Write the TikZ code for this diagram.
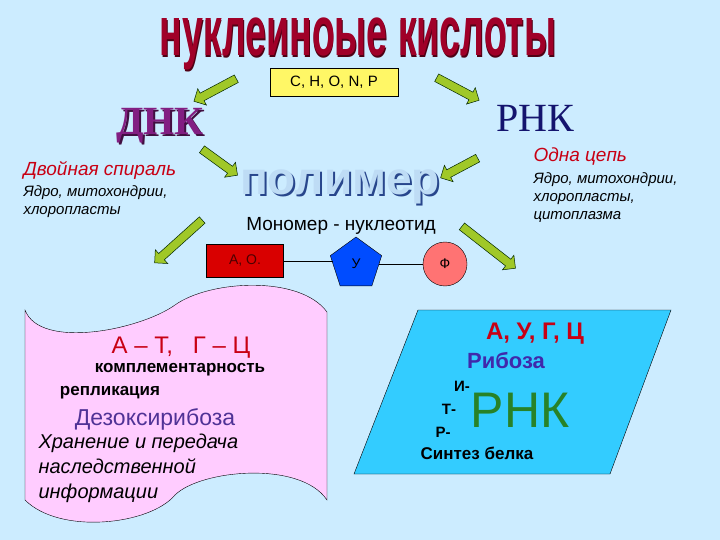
\documentclass[tikz,border=0pt]{standalone}
\usepackage{fontspec}
\setmainfont{Liberation Sans}
\newfontfamily\serifR{Liberation Serif}
\usetikzlibrary{shapes.geometric,shapes.arrows}
\definecolor{bg}{RGB}{204,236,255}
\definecolor{arrg}{RGB}{160,200,40}
\definecolor{titlered}{RGB}{160,0,40}
\definecolor{dnkpurple}{RGB}{130,30,130}
\definecolor{rnkblue}{RGB}{20,20,110}
\definecolor{txtred}{RGB}{200,0,20}
\definecolor{pinkscroll}{RGB}{255,204,255}
\definecolor{cyanfill}{RGB}{51,204,255}
\definecolor{violet2}{RGB}{80,50,150}
\definecolor{rnkgreen}{RGB}{40,130,40}
\definecolor{polyfill}{RGB}{190,220,245}
\definecolor{polyline}{RGB}{40,70,140}
\newcommand{\shadowed}[3]{\makebox[0pt][l]{\hspace{#1}\raisebox{-#1}{\color{#2}#3}}#3}
\tikzset{
  garrow/.style={draw=black!50!green!30!black, line width=0.5pt, fill=arrg, single arrow, single arrow head extend=5pt, minimum height=#1, inner sep=0pt},
  itl/.style={anchor=west, font=\itshape\fontsize{15}{18}\selectfont, align=left},
  lbl/.style={inner sep=0pt}
}
\newcommand{\shaft}{\rule{0pt}{8pt}}
\begin{document}
\begin{tikzpicture}[x=1pt,y=-1pt]
\fill[bg] (0,0) rectangle (720,540);
\useasboundingbox (0,0) rectangle (720,540);
% title
\node[lbl, text=titlered, font=\bfseries\fontsize{70}{74}\selectfont, xscale=0.535] (title) at (358,45) {\shadowed{1.5pt}{titlered!50!black}{нуклеиноые кислоты}};
\node[draw=black, fill=yellow!60, minimum width=128pt, minimum height=28pt, inner sep=0pt, font=\fontsize{15}{17}\selectfont] (elem) at (334,82) {C, H, O, N, P};
% arrows
\node[garrow=48pt, rotate=208] (a1) at (217,89) {\shaft};
\node[garrow=48pt, rotate=-28] (a2) at (456,88) {\shaft};
\node[garrow=44pt, rotate=-36] (a3) at (218,161) {\shaft};
\node[garrow=42pt, rotate=208] (a4) at (461,167) {\shaft};
\node[garrow=64pt, rotate=222] (a5) at (180,240) {\shaft};
\node[garrow=68pt, rotate=-38] (a6) at (487,246) {\shaft};
% DNK / RNK
\node[lbl, text=dnkpurple, font=\serifR\bfseries\fontsize{40}{44}\selectfont] (dnk) at (160,127) {\shadowed{2pt}{dnkpurple!50!black}{ДНК}};
\node[lbl, text=rnkblue, font=\serifR\fontsize{40}{44}\selectfont] (rnk) at (535,118) {РНК};
\node[itl, text=txtred, font=\itshape\fontsize{19}{21}\selectfont] (dsp) at (20,170) {Двойная спираль};
\node[itl] (dloc) at (20,202) {Ядро, митохондрии,\\хлоропласты};
\node[itl, text=txtred, font=\itshape\fontsize{19}{21}\selectfont] (odna) at (530,157) {Одна цепь};
\node[itl] (rloc) at (530,198) {Ядро, митохондрии,\\хлоропласты,\\цитоплазма};
% polymer
\node[lbl, text=polyfill, font=\bfseries\fontsize{46}{50}\selectfont] (poly) at (340,188) {\shadowed{2pt}{polyline}{полимер}};
\node[lbl, font=\fontsize{19}{21}\selectfont] (mono) at (341,226) {Мономер - нуклеотид};
% nucleotide
\node[draw=black, fill=red!85!black, minimum width=77pt, minimum height=33pt, inner sep=0pt, font=\fontsize{14}{16}\selectfont, text=black!70!red] (base) at (245,261) {А, О.};
\node[regular polygon, regular polygon sides=5, draw=black, fill=blue!70!cyan, minimum size=54pt, inner sep=0pt, font=\fontsize{14}{16}\selectfont] (sugar) at (356,264) {У};
\node[circle, draw=black, fill=red!40!pink, minimum size=44pt, inner sep=0pt, font=\fontsize{14}{16}\selectfont] (phos) at (445,264) {Ф};
\draw (base.east) -- (sugar.west |- base.east);
\draw (sugar.east |- phos.west) -- (phos.west);
% scroll
\path[draw=black, fill=pinkscroll] (25,310) .. controls (40,350) and (140,330) .. (175,305) .. controls (210,280) and (300,275) .. (327,312) -- (327,500) .. controls (300,460) and (200,470) .. (175,495) .. controls (150,525) and (60,535) .. (25,500) -- cycle;
\node[lbl, text=txtred, font=\fontsize{24}{26}\selectfont] (at) at (181,348) {А – Т,\ \ \ Г – Ц};
\node[lbl, font=\bfseries\fontsize{17}{19}\selectfont] (kompl) at (180,370) {комплементарность};
\node[lbl, font=\bfseries\fontsize{17}{19}\selectfont] (repl) at (110,393) {репликация};
\node[lbl, text=violet2, font=\fontsize{23}{25}\selectfont] (dezo) at (155,419) {Дезоксирибоза};
\node[itl, font=\itshape\fontsize{20}{25}\selectfont] (hran) at (35,468) {Хранение и передача\\наследственной\\информации};
% parallelogram
\path[draw=black, fill=cyanfill] (418,310) -- (671,310) -- (610,474) -- (354,474) -- cycle;
\node[lbl, text=txtred, font=\bfseries\fontsize{24}{26}\selectfont] (augc) at (535,334) {А, У, Г, Ц};
\node[lbl, text=violet2!80!blue, font=\bfseries\fontsize{22}{24}\selectfont] (rib) at (506,361) {Рибоза};
\node[lbl, font=\bfseries\fontsize{15}{17}\selectfont] (i) at (462,386) {И-};
\node[lbl, font=\bfseries\fontsize{15}{17}\selectfont] (t) at (449,409) {Т-};
\node[lbl, font=\bfseries\fontsize{15}{17}\selectfont] (r) at (443,432) {Р-};
\node[lbl, text=rnkgreen, font=\fontsize{50}{54}\selectfont] (rnk2) at (520,410) {РНК};
\node[lbl, font=\bfseries\fontsize{17}{19}\selectfont] (sint) at (477,453) {Синтез белка};
\end{tikzpicture}
\end{document}
